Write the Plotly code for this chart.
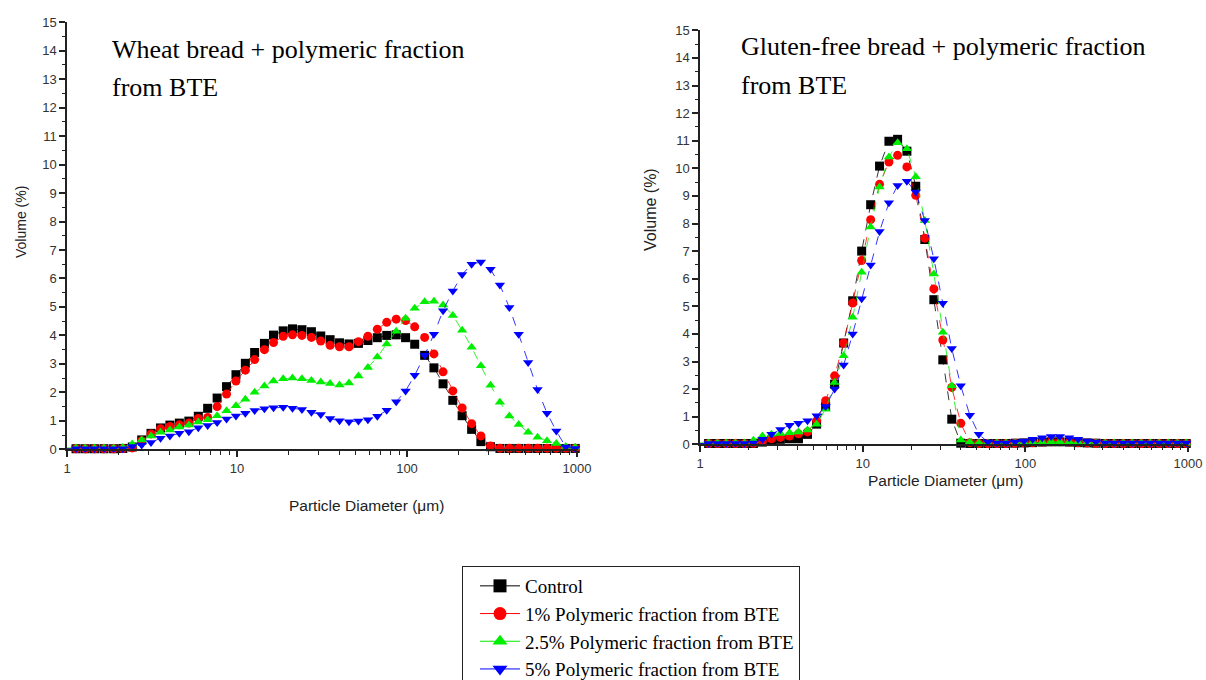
import plotly.graph_objects as go

W, H = 1206, 680
OFF = 0  # body margin removed by post_script

# particle size classes (um)
diameter = [0.991, 1.13, 1.28, 1.45, 1.65, 1.88, 2.13, 2.42, 2.75, 3.12, 3.55, 4.03, 4.58, 5.21,
            5.92, 6.72, 7.64, 8.68, 9.86, 11.2, 12.7, 14.5, 16.4, 18.7, 21.2, 24.1, 27.4, 31.1,
            35.3, 40.1, 45.6, 51.8, 58.9, 66.9, 76.0, 86.4, 98.1, 111, 127, 144, 163, 186, 211,
            240, 272, 310, 352, 400, 454, 516, 586, 666, 756, 859, 976]

series_names = ["Control", "1% Polymeric fraction from BTE",
                "2.5% Polymeric fraction from BTE", "5% Polymeric fraction from BTE"]

# Wheat bread (left panel)
wheat_control = [0.02, 0.02, 0.02, 0.02, 0.02, 0.02, 0.03, 0.08, 0.33, 0.56, 0.75, 0.85, 0.92, 0.99,
                 1.16, 1.44, 1.8, 2.2, 2.62, 3.02, 3.4, 3.72, 4.01, 4.16, 4.23, 4.2, 4.13, 3.98,
                 3.85, 3.74, 3.7, 3.72, 3.82, 3.92, 4.0, 4.02, 3.92, 3.69, 3.3, 2.86, 2.3, 1.72,
                 1.18, 0.7, 0.27, 0.09, 0.03, 0.03, 0.03, 0.03, 0.03, 0.03, 0.03, 0.03, 0.03]
wheat_p1 = [0.02, 0.02, 0.02, 0.02, 0.02, 0.02, 0.03, 0.05, 0.3, 0.54, 0.72, 0.8, 0.86, 0.92,
            1.08, 1.12, 1.5, 1.94, 2.4, 2.78, 3.15, 3.5, 3.75, 3.97, 4.02, 4.0, 3.93, 3.8,
            3.65, 3.6, 3.6, 3.78, 3.97, 4.22, 4.46, 4.57, 4.52, 4.3, 3.93, 3.35, 2.72, 2.05,
            1.45, 0.9, 0.47, 0.12, 0.04, 0.04, 0.04, 0.04, 0.04, 0.04, 0.04, 0.04, 0.04]
wheat_p25 = [0.05, 0.05, 0.05, 0.05, 0.05, 0.05, 0.06, 0.19, 0.33, 0.47, 0.6, 0.68, 0.78, 0.85,
             0.96, 1.04, 1.18, 1.35, 1.53, 1.76, 2.0, 2.22, 2.4, 2.48, 2.5, 2.48, 2.42, 2.36,
             2.31, 2.26, 2.33, 2.57, 2.87, 3.24, 3.7, 4.15, 4.6, 4.95, 5.18, 5.2, 5.07, 4.7,
             4.18, 3.58, 2.93, 2.25, 1.65, 1.17, 0.87, 0.6, 0.42, 0.3, 0.2, 0.1, 0.07]
wheat_p5 = [0.02, 0.02, 0.02, 0.02, 0.02, 0.02, 0.02, 0.1, 0.15, 0.24, 0.39, 0.47, 0.56, 0.62,
            0.76, 0.84, 0.94, 1.06, 1.17, 1.27, 1.36, 1.42, 1.46, 1.48, 1.44, 1.4, 1.3, 1.22,
            1.08, 1.0, 0.97, 0.99, 1.04, 1.16, 1.37, 1.67, 2.05, 2.6, 3.3, 4.04, 4.87, 5.56,
            6.14, 6.5, 6.58, 6.32, 5.77, 4.98, 4.04, 3.05, 2.1, 1.27, 0.64, 0.08, 0.03]

# Gluten-free bread (right panel)
gf_control = [0.03, 0.03, 0.03, 0.03, 0.03, 0.03, 0.03, 0.08, 0.15, 0.18, 0.2, 0.2, 0.36, 0.73,
              1.37, 2.18, 3.67, 5.2, 7.0, 8.68, 10.08, 10.98, 11.05, 10.62, 9.35, 7.42, 5.24, 3.06,
              0.91, 0.04, 0.03, 0.03, 0.03, 0.03, 0.03, 0.04, 0.05, 0.06, 0.08, 0.09, 0.09, 0.08,
              0.06, 0.05, 0.04, 0.03, 0.03, 0.03, 0.03, 0.03, 0.03, 0.03, 0.03, 0.03, 0.03]
gf_p1 = [0.03, 0.03, 0.03, 0.03, 0.03, 0.03, 0.04, 0.1, 0.2, 0.25, 0.3, 0.38, 0.45, 0.85,
         1.58, 2.48, 3.67, 5.12, 6.66, 8.14, 9.42, 10.23, 10.47, 10.05, 9.02, 7.47, 5.63, 3.78,
         2.06, 0.76, 0.06, 0.03, 0.03, 0.03, 0.03, 0.04, 0.05, 0.06, 0.08, 0.09, 0.09, 0.08,
         0.06, 0.05, 0.04, 0.03, 0.03, 0.03, 0.03, 0.03, 0.03, 0.03, 0.03, 0.03, 0.03]
gf_p25 = [0.05, 0.05, 0.05, 0.05, 0.05, 0.05, 0.15, 0.3, 0.36, 0.39, 0.42, 0.45, 0.52, 0.73,
          1.27, 2.24, 3.21, 4.6, 6.23, 7.87, 9.32, 10.41, 10.93, 10.71, 9.69, 8.11, 6.17, 4.06,
          2.12, 0.16, 0.08, 0.05, 0.05, 0.05, 0.05, 0.05, 0.06, 0.07, 0.08, 0.09, 0.09, 0.08,
          0.07, 0.06, 0.05, 0.05, 0.05, 0.05, 0.05, 0.05, 0.05, 0.05, 0.05, 0.05, 0.05]
gf_p5 = [0.03, 0.03, 0.03, 0.03, 0.03, 0.03, 0.05, 0.18, 0.36, 0.54, 0.69, 0.76, 0.85, 1.03,
         1.37, 2.0, 2.87, 4.0, 5.27, 6.5, 7.71, 8.75, 9.38, 9.53, 9.14, 8.11, 6.72, 5.11,
         3.47, 2.12, 1.05, 0.36, 0.08, 0.05, 0.05, 0.08, 0.12, 0.18, 0.24, 0.28, 0.28, 0.24,
         0.18, 0.12, 0.08, 0.05, 0.05, 0.05, 0.05, 0.05, 0.05, 0.05, 0.05, 0.05, 0.05]

x_tick_vals = [1, 10, 100, 1000]
x_tick_text = ["1", "10", "100", "1000"]
x_minor_vals = [2, 3, 4, 5, 6, 7, 8, 9, 20, 30, 40, 50, 60, 70, 80, 90,
                200, 300, 400, 500, 600, 700, 800, 900]

colors = ["#000000", "#FF0000", "#00EE00", "#0000FF"]
symbols = ["square", "circle", "triangle-up", "triangle-down"]

fig = go.Figure()

panels = [
    ("x", "y", [wheat_control, wheat_p1, wheat_p25, wheat_p5]),
    ("x2", "y2", [gf_control, gf_p1, gf_p25, gf_p5]),
]
for xa, ya, data in panels:
    for i, vals in enumerate(data):
        fig.add_trace(go.Scatter(
            x=diameter, y=vals, xaxis=xa, yaxis=ya, mode="lines+markers",
            line=dict(color=colors[i], width=0.8, dash="dash"),
            marker=dict(symbol=symbols[i], color=colors[i], size=9, line=dict(width=0)),
            showlegend=False, cliponaxis=False, hoverinfo="skip"))

# legend entries
for i, name in enumerate(series_names):
    fig.add_trace(go.Scatter(
        x=[None], y=[None], mode="lines+markers", name=name,
        line=dict(color=colors[i], width=1),
        marker=dict(symbol=symbols[i], color=colors[i], size=13, line=dict(width=0))))

def px_x(p):
    return (p - OFF) / W

def px_y(p):
    return 1 - (p - OFF) / H

tick_font = dict(family="Liberation Sans, Arial", size=13, color="#333")
axis_common = dict(
    type="log", range=[0, 3], showline=True, linecolor="#222", linewidth=1.5,
    ticks="outside", ticklen=6, tickwidth=1.5, tickcolor="#222", automargin=False,
    tickvals=x_tick_vals, ticktext=x_tick_text, showgrid=False, zeroline=False,
    tickfont=tick_font,
    minor=dict(tickvals=x_minor_vals, ticks="outside", ticklen=4, tickwidth=1, tickcolor="#222",
               showgrid=False),
)
yaxis_common = dict(
    range=[0, 15], dtick=1, showline=True, linecolor="#222", linewidth=1.5, automargin=False,
    ticks="outside", ticklen=6, tickwidth=1.5, tickcolor="#222", showgrid=False, zeroline=False,
    tickfont=tick_font,
    minor=dict(dtick=0.5, ticks="outside", ticklen=3, tickwidth=1, tickcolor="#222", showgrid=False),
)

fig.update_layout(
    width=W, height=H, margin=dict(l=0, r=0, t=0, b=0, autoexpand=False),
    paper_bgcolor="white", plot_bgcolor="white",
    xaxis=dict(domain=[px_x(67), px_x(577)], anchor="y", **axis_common),
    yaxis=dict(domain=[px_y(449.3), px_y(22.2)], anchor="x", **yaxis_common),
    xaxis2=dict(domain=[px_x(700), px_x(1188)], anchor="y2", **axis_common),
    yaxis2=dict(domain=[px_y(444.3), px_y(30.3)], anchor="x2", **yaxis_common),
    legend=dict(x=px_x(462), y=px_y(566), xanchor="left", yanchor="top",
                bordercolor="#222", borderwidth=1, bgcolor="white",
                font=dict(family="Liberation Serif, Times New Roman", size=19, color="#000"),
                tracegroupgap=0, indentation=12, itemwidth=40),
    showlegend=True,
)

serif = dict(family="Liberation Serif, Times New Roman", size=26, color="#000")
sans = "Liberation Sans, Arial"
annots = [
    dict(text="Wheat bread + polymeric fraction", x=px_x(110), y=px_y(50), xanchor="left",
         yanchor="middle", font=serif),
    dict(text="from BTE", x=px_x(110), y=px_y(88), xanchor="left", yanchor="middle", font=serif),
    dict(text="Gluten-free bread + polymeric fraction", x=px_x(739), y=px_y(47), xanchor="left",
         yanchor="middle", font=serif),
    dict(text="from BTE", x=px_x(739), y=px_y(85), xanchor="left", yanchor="middle", font=serif),
    dict(text="Volume (%)", x=px_x(21), y=px_y(222), textangle=-90, xanchor="center",
         yanchor="middle", font=dict(family=sans, size=14, color="#222")),
    dict(text="Particle Diameter (\u03bcm)", x=px_x(366), y=px_y(505), xanchor="center",
         yanchor="middle", font=dict(family=sans, size=15.5, color="#222")),
    dict(text="Volume (%)", x=px_x(650), y=px_y(210), textangle=-90, xanchor="center",
         yanchor="middle", font=dict(family=sans, size=16, color="#222")),
    dict(text="Particle Diameter (\u03bcm)", x=px_x(945), y=px_y(480), xanchor="center",
         yanchor="middle", font=dict(family=sans, size=15.5, color="#222")),
]
for a in annots:
    a.update(xref="paper", yref="paper", showarrow=False)
fig.update_layout(annotations=annots)

fig.write_html(
    "out.html",
    config={"displayModeBar": False},
    post_script="document.body.style.margin='0px';document.body.style.overflow='hidden';",
)
